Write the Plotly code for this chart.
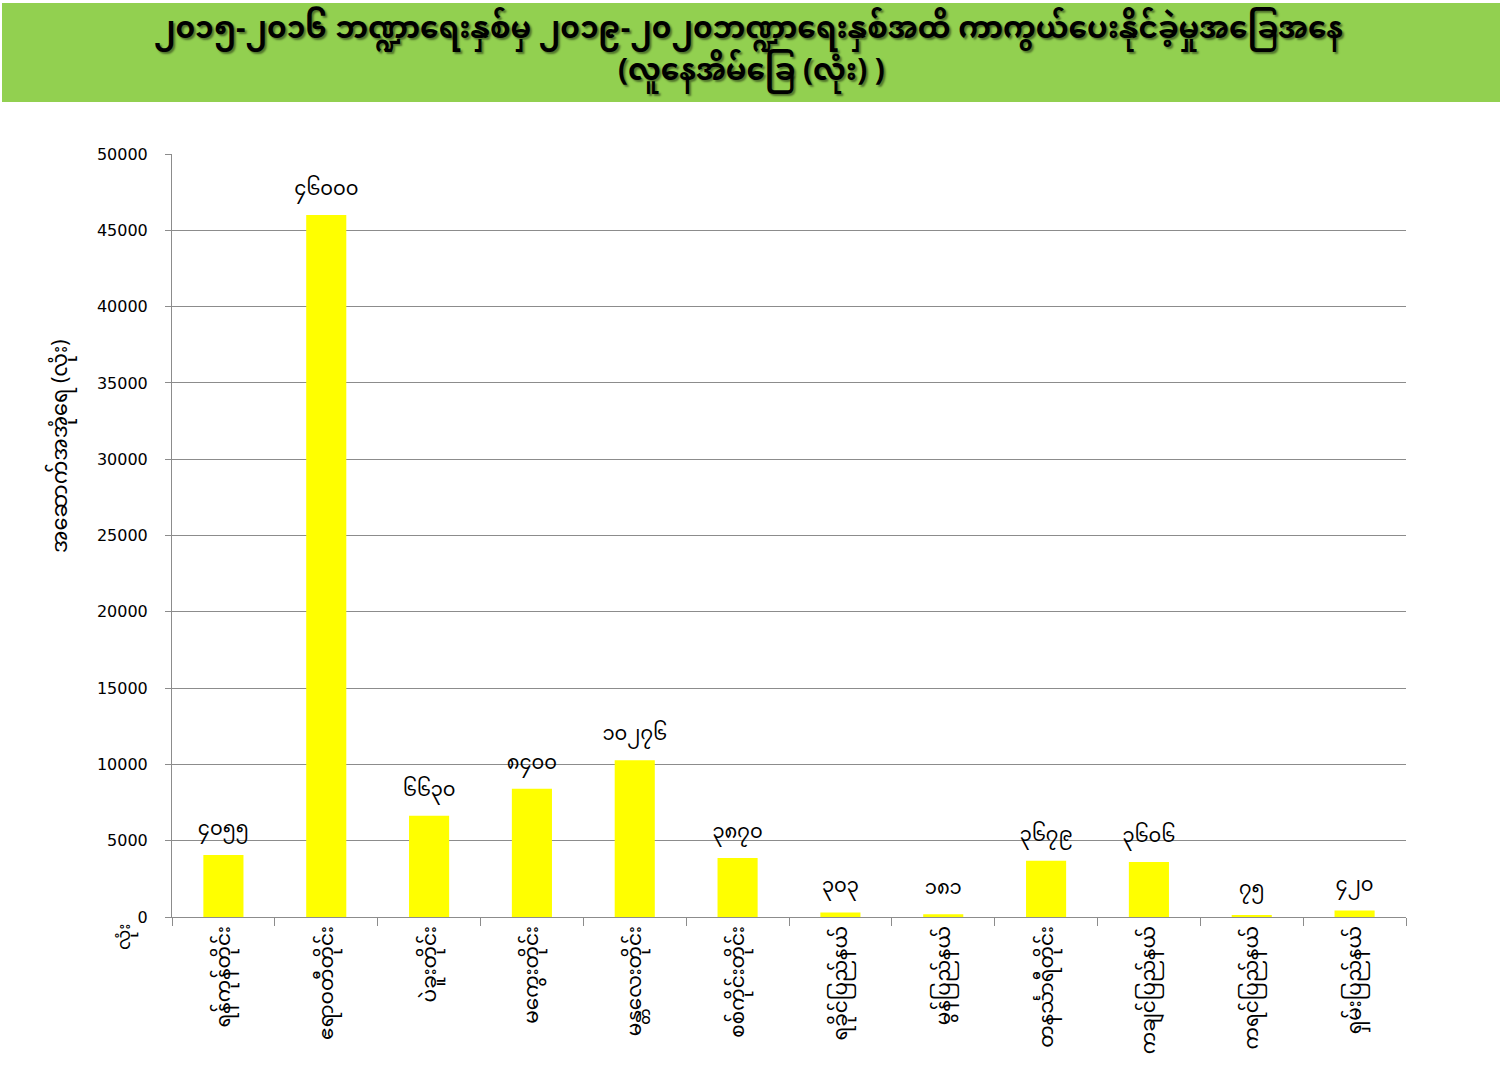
import plotly.graph_objects as go

regions = [
    "ရန်ကုန်တိုင်း", "ဧရာဝတီတိုင်း", "ပဲခူးတိုင်း", "မကွေးတိုင်း", "မန္တလေးတိုင်း",
    "စစ်ကိုင်းတိုင်း", "ရခိုင်ပြည်နယ်", "မွန်ပြည်နယ်", "တနင်္သာရီတိုင်း",
    "ကချင်ပြည်နယ်", "ကရင်ပြည်နယ်", "ရှမ်းပြည်နယ်",
]
houses = [4055, 46000, 6630, 8400, 10276, 3870, 303, 181, 3679, 3606, 75, 420]
labels_my = ["၄၀၅၅", "၄၆၀၀၀", "၆၆၃၀", "၈၄၀၀", "၁၀၂၇၆", "၃၈၇၀", "၃၀၃", "၁၈၁",
             "၃၆၇၉", "၃၆၀၆", "၇၅", "၄၂၀"]
y_ticks = [0, 5000, 10000, 15000, 20000, 25000, 30000, 35000, 40000, 45000, 50000]

title_line1 = "၂၀၁၅-၂၀၁၆ ဘဏ္ဍာရေးနှစ်မှ ၂၀၁၉-၂၀၂၀ဘဏ္ဍာရေးနှစ်အထိ ကာကွယ်ပေးနိုင်ခဲ့မှုအခြေအနေ"
title_line2 = "(လူနေအိမ်ခြေ (လုံး) )"
y_title = "အဆောက်အအုံရေ (လုံး)"
unit = "လုံး"

FONT = "Noto Sans Myanmar, Padauk, Myanmar Text, DejaVu Sans, Noto Sans, sans-serif"

fig = go.Figure()
fig.add_trace(go.Bar(
    x=regions, y=houses, text=labels_my, textposition="outside",
    constraintext="none",
    textfont=dict(size=19.5, color="black", family=FONT),
    marker=dict(color="#FFFF00", line=dict(width=0)),
    cliponaxis=False, hoverinfo="x+y",
))

L, R, T, B = 172, 96, 154, 151
W, H = 1502, 1068
pw, ph = W - L - R, H - T - B

def px_x(p):
    return (p - L) / pw

def px_y(p):
    return (H - B - p) / ph

fig.add_shape(type="rect", xref="paper", yref="paper",
              x0=px_x(2), x1=px_x(1500), y0=px_y(102), y1=px_y(3),
              fillcolor="#92D050", line=dict(width=0), layer="below")

title_font = dict(size=29.5, color="black", family=FONT, weight="bold",
                  shadow="2px 2px 2px rgba(0,0,0,0.45)")
fig.add_annotation(text=title_line1, xref="paper", yref="paper",
                   x=px_x(748), y=px_y(31), xanchor="center", yanchor="middle",
                   showarrow=False, font=title_font)
fig.add_annotation(text=title_line2, xref="paper", yref="paper",
                   x=px_x(751), y=px_y(73), xanchor="center", yanchor="middle",
                   showarrow=False, font=title_font)
fig.add_annotation(text=y_title, xref="paper", yref="paper",
                   x=px_x(62), y=px_y(446), textangle=-90, showarrow=False,
                   xanchor="center", yanchor="middle",
                   font=dict(size=21, color="black", family=FONT))
fig.add_annotation(text=unit, xref="paper", yref="paper",
                   x=px_x(125), y=px_y(937), textangle=-90, showarrow=False,
                   xanchor="center", yanchor="middle",
                   font=dict(size=18, color="black", family=FONT))

fig.update_layout(
    width=W, height=H,
    margin=dict(l=L, r=R, t=T, b=B),
    paper_bgcolor="white", plot_bgcolor="white",
    showlegend=False, bargap=0.61,
    font=dict(family=FONT, color="black"),
)
fig.update_xaxes(
    type="category", tickangle=-90, tickfont=dict(size=20, color="black", family=FONT),
    showline=True, linecolor="#8c8c8c", linewidth=1,
    ticks="outside", tickson="boundaries", ticklen=8, tickcolor="#8c8c8c",
    showgrid=False,
)
fig.update_yaxes(
    range=[0, 50000], tickvals=y_ticks, ticktext=[str(v) for v in y_ticks],
    tickfont=dict(size=16, color="black", family="DejaVu Sans"),
    showline=True, linecolor="#8c8c8c", linewidth=1,
    ticks="outside", ticklen=6, tickcolor="#8c8c8c", ticklabelstandoff=14,
    showgrid=True, gridcolor="#8c8c8c", gridwidth=1,
    zeroline=False,
)

fig.write_html("out.html", config={"displayModeBar": False},
               post_script="document.body.style.margin='0px';"
               "document.body.style.overflow='hidden';")
